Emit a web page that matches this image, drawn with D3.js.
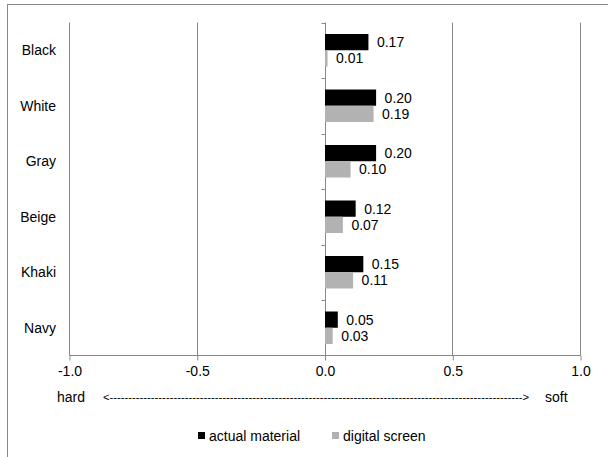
<!DOCTYPE html>
<html>
<head>
<meta charset="utf-8">
<script src="https://cdn.jsdelivr.net/npm/d3@7/dist/d3.min.js"></script>
<style>
  html, body { margin: 0; padding: 0; background: #fff; }
  svg { display: block; font-family: "Liberation Sans", Arial, sans-serif; }
</style>
</head>
<body>
<svg id="chart" width="608" height="457"></svg>
<script>
// Perceived softness per colour, two viewing conditions
const categories = ["Black", "White", "Gray", "Beige", "Khaki", "Navy"];
const actualMaterial = [0.17, 0.20, 0.20, 0.12, 0.15, 0.05];
const digitalScreen = [0.01, 0.19, 0.10, 0.07, 0.11, 0.03];
const seriesNames = ["actual material", "digital screen"];
const seriesColors = ["#000000", "#b2b2b2"];
const xTicks = [-1.0, -0.5, 0.0, 0.5, 1.0];
const scaleEnds = ["hard", "soft"];

const FONT = 14;
const svg = d3.select("#chart");
const plot = { left: 69, right: 580, top: 22.5, bottom: 355.5 };

// outer frame (top and left edges visible within the window)
svg.append("rect")
  .attr("x", 7.5).attr("y", 4.5)
  .attr("width", 620).attr("height", 470)
  .attr("fill", "none").attr("stroke", "#888").attr("stroke-width", 1);

const x = d3.scaleLinear().domain([-1, 1]).range([plot.left, plot.right]);
const y = d3.scaleBand().domain(categories).range([plot.top, plot.bottom]).paddingInner(0).paddingOuter(0);
const sub = d3.scaleBand().domain([0, 1]).range([11.5, y.bandwidth() - 11.5]).paddingInner(0).paddingOuter(0);

const g = svg.append("g");

// vertical gridlines
g.selectAll("line.grid")
  .data(xTicks.filter(t => t !== 0))
  .join("line")
  .attr("class", "grid")
  .attr("x1", d => Math.round(x(d)) + 0.5).attr("x2", d => Math.round(x(d)) + 0.5)
  .attr("y1", plot.top).attr("y2", plot.bottom)
  .attr("stroke", "#888").attr("stroke-width", 1);

// bottom axis line with tick marks
const xAxis = d3.axisBottom(x).tickValues(xTicks).tickSize(5).tickFormat(d => d.toFixed(1));
const xg = g.append("g")
  .attr("transform", `translate(0.5,${plot.bottom})`)
  .call(xAxis);
xg.select(".domain").attr("stroke", "#888").attr("d", `M${plot.left},0H${plot.right}`);
xg.selectAll(".tick line").attr("stroke", "#888");
xg.selectAll(".tick text")
  .attr("y", 11)
  .attr("fill", "#000")
  .attr("font-size", FONT)
  .attr("font-family", "Liberation Sans, Arial, sans-serif");

// vertical zero axis with category ticks
const yAxis = d3.axisLeft(y).tickSize(0).tickFormat("");
const yg = g.append("g")
  .attr("transform", `translate(${Math.round(x(0)) + 0.5},0)`)
  .call(yAxis);
yg.select(".domain").remove();
yg.append("line")
  .attr("y1", plot.top).attr("y2", plot.bottom)
  .attr("stroke", "#888");
yg.selectAll("line.cat")
  .data(categories.map((c) => y(c)))
  .join("line")
  .attr("class", "cat")
  .attr("x1", -4).attr("x2", 0)
  .attr("y1", d => Math.round(d) + 0.5).attr("y2", d => Math.round(d) + 0.5)
  .attr("stroke", "#888");

// category labels
g.selectAll("text.cat")
  .data(categories)
  .join("text")
  .attr("class", "cat")
  .attr("x", 56)
  .attr("y", d => y(d) + y.bandwidth() / 2)
  .attr("dy", "0.35em")
  .attr("text-anchor", "end")
  .attr("font-size", FONT)
  .text(d => d);

// bars
const rows = categories.map((c, i) => ({ c, vals: [actualMaterial[i], digitalScreen[i]] }));
const rowG = g.selectAll("g.row")
  .data(rows)
  .join("g")
  .attr("class", "row")
  .attr("transform", d => `translate(0,${y(d.c)})`);

rowG.selectAll("rect")
  .data(d => d.vals.map((v, k) => ({ v, k })))
  .join("rect")
  .attr("x", x(0) + 0.5)
  .attr("y", d => sub(d.k))
  .attr("width", d => x(d.v) - x(0))
  .attr("height", sub.bandwidth())
  .attr("fill", d => seriesColors[d.k]);

rowG.selectAll("text")
  .data(d => d.vals.map((v, k) => ({ v, k })))
  .join("text")
  .attr("x", d => x(d.v) + 9)
  .attr("y", d => sub(d.k) + sub.bandwidth() / 2)
  .attr("dy", "0.35em")
  .attr("font-size", FONT)
  .text(d => d.v.toFixed(2));

// hard <----> soft scale note
const noteY = 397.5;
svg.append("text").attr("x", 57).attr("y", noteY).attr("dy", "0.35em")
  .attr("font-size", FONT).text(scaleEnds[0]);
svg.append("text").attr("x", 545).attr("y", noteY).attr("dy", "0.35em")
  .attr("font-size", FONT).text(scaleEnds[1]);
svg.append("text").attr("x", 103).attr("y", noteY).attr("dy", "0.35em")
  .attr("font-size", 11)
  .attr("textLength", 426).attr("lengthAdjust", "spacingAndGlyphs")
  .text("<" + "-".repeat(110) + ">");

// legend
const legend = svg.append("g").attr("transform", "translate(198,436)");
const legendX = [0, 134];
seriesNames.forEach((name, i) => {
  legend.append("rect")
    .attr("x", legendX[i]).attr("y", -4)
    .attr("width", 7).attr("height", 7)
    .attr("fill", seriesColors[i]);
  legend.append("text")
    .attr("x", legendX[i] + 11).attr("y", 0)
    .attr("dy", "0.35em")
    .attr("font-size", FONT)
    .text(name);
});
</script>
</body>
</html>
